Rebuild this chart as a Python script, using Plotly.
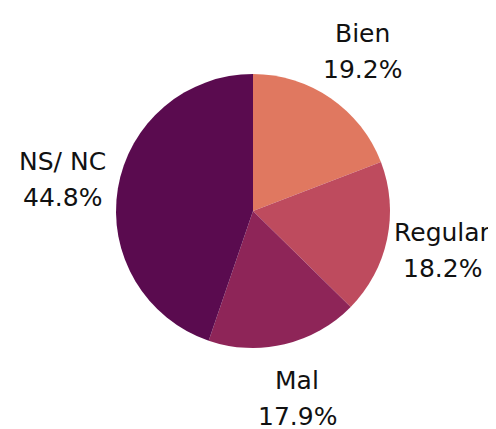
import math
import plotly.graph_objects as go

labels = ["Bien", "Regular", "Mal", "NS/ NC"]
values = [19.2, 18.2, 17.9, 44.8]
colors = ["#E07860", "#BE4B5E", "#8E2558", "#5A0B4F"]

W, H = 496, 429
# page body has an 8px offset in the screenshot
cx, cy, r = 245, 203, 137
label_dist = 1.41 * r
line_gap = 18
font = dict(family="DejaVu Sans, sans-serif", size=25, color="#111111")

fig = go.Figure(go.Pie(
    labels=labels,
    values=values,
    sort=False,
    direction="clockwise",
    rotation=0,
    marker=dict(colors=colors, line=dict(width=0)),
    textinfo="none",
    showlegend=False,
    hoverinfo="label+value",
    domain=dict(x=[(cx - r) / W, (cx + r) / W], y=[1 - (cy + r) / H, 1 - (cy - r) / H]),
))

total = sum(values)
cum = 0.0
for lab, v in zip(labels, values):
    mid = (cum + v / 2) / total * 2 * math.pi
    cum += v
    sx = cx + label_dist * math.sin(mid)
    sy = cy - label_dist * math.cos(mid)
    px, py = sx / W, 1 - sy / H
    for txt, shift in ((lab, line_gap), (f"{v:.1f}%", -line_gap)):
        fig.add_annotation(x=px, y=py, xref="paper", yref="paper", text=txt,
                           showarrow=False, xanchor="center", yanchor="middle",
                           yshift=shift, font=font)

fig.update_layout(
    width=W, height=H,
    margin=dict(l=0, r=0, t=0, b=0),
    paper_bgcolor="white",
    plot_bgcolor="white",
)
fig.write_html("out.html")
